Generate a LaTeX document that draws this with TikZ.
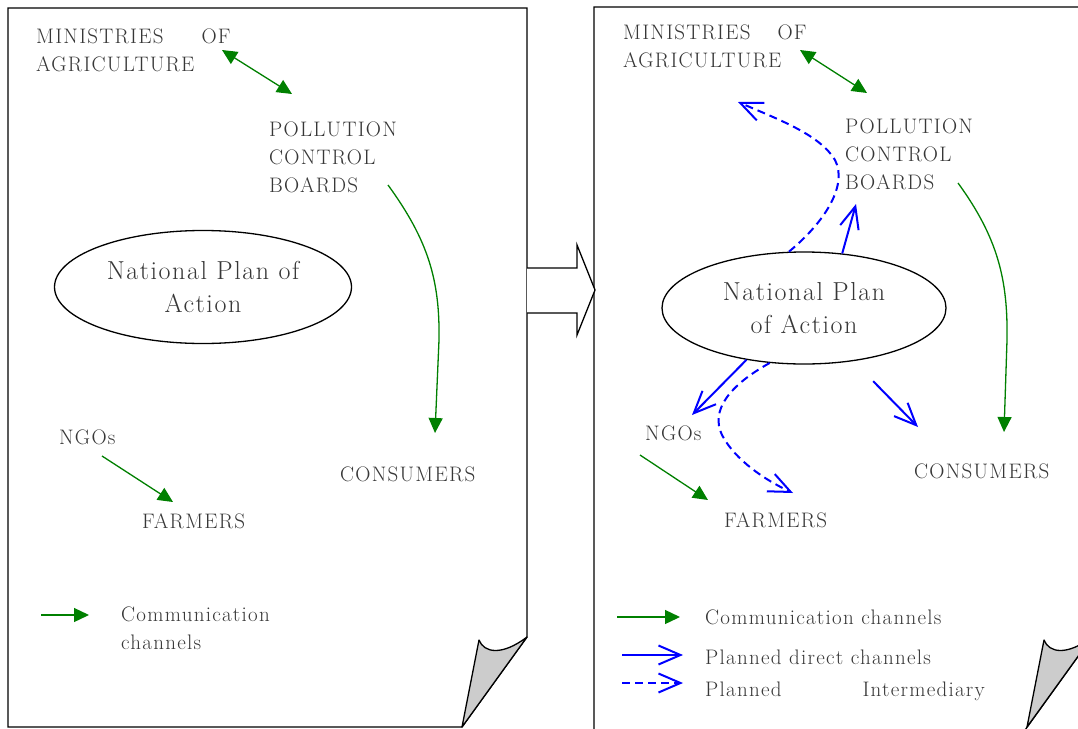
\documentclass[tikz,border=0pt]{standalone}
\usepackage{fontspec}
\newfontfamily\handfont{Latin Modern Roman}[LetterSpace=6]
\usepackage{tikz}
\usetikzlibrary{arrows.meta,shapes.geometric}

\definecolor{commgreen}{RGB}{0,128,0}
\definecolor{plannedblue}{RGB}{0,0,255}
\definecolor{inkgray}{RGB}{55,55,55}
\definecolor{curlgray}{RGB}{204,204,204}

\tikzset{
  actor/.style={anchor=north west, inner sep=0pt, align=left, text=inkgray,
    font=\handfont\fontsize{21}{28}\selectfont},
  plan/.style={draw, ellipse, line width=1.3pt, inner sep=0pt, align=center,
    text=inkgray, font=\handfont\fontsize{26}{33}\selectfont},
  comm/.style={commgreen, line width=1.3pt, -{Triangle[length=15pt,width=14pt]}},
  commboth/.style={comm, {Triangle[length=15pt,width=14pt]}-{Triangle[length=15pt,width=14pt]}},
  direct/.style={plannedblue, line width=2pt, -{Straight Barb[length=22pt,width=19pt]}},
  intermediary/.style={direct, dash pattern=on 8pt off 5pt},
  sheet/.style={draw, line width=1.3pt, fill=white},
  curl/.style={draw, line width=1.3pt, fill=curlgray, line join=round},
}

\begin{document}
\begin{tikzpicture}[x=1pt,y=-1pt]
    \useasboundingbox (0,0) rectangle (1078,728);
    \clip (0,0) rectangle (1078,728);
    % the two sheets and the arrow between them
    \draw[sheet] (8,8) -- (527,8) -- (527,637) -- (462,727) -- (8,727) -- cycle;
    \draw[curl] (462,727) -- (479,640) .. controls (484,653) and (502,656) .. (527,637) -- cycle;
    \draw[sheet] (594,7) -- (1092,7) -- (1092,637) -- (1020,737) -- (594,737) -- cycle;
    \draw[curl] (1027,727) -- (1044,640) .. controls (1049,653) and (1067,656) .. (1092,637) -- cycle;
    \draw[line width=1.3pt, fill=white] (527,268) -- (577,268) -- (577,245) -- (595,290) -- (577,335) -- (577,313) -- (527,313);

    % today
    \node[actor] (minL) at (36,29) {MINISTRIES\hspace{38pt}OF\\AGRICULTURE};
    \node[actor] (pcbL) at (269,122) {POLLUTION\\CONTROL\\BOARDS};
    \node[plan, minimum width=297pt, minimum height=113pt] (planL) at (203,287) {National Plan of\\Action};
    \node[actor] (ngoL) at (59,430) {NGOs};
    \node[actor] (farmL) at (142,513) {FARMERS};
    \node[actor] (consL) at (340,467) {CONSUMERS};
    \node[actor] (legL) at (121,607) {Communication\\channels};

    \coordinate (minLa) at (222,50);
    \coordinate (pcbLa) at (292,94);
    \coordinate (pcbLb) at (388,185);
    \coordinate (consLa) at (435,433);
    \coordinate (ngoLa) at (102,456);
    \coordinate (farmLa) at (173,502);
    \coordinate (legLa) at (41,615);
    \coordinate (legLb) at (89,615);

    \draw[commboth] (minLa) -- (pcbLa);
    \draw[comm] (pcbLb) .. controls (428,240) and (440,280) .. (439,340) -- (consLa);
    \draw[comm] (ngoLa) -- (farmLa);
    \draw[comm] (legLa) -- (legLb);

    % planned
    \node[actor] (minR) at (623,25) {MINISTRIES\hspace{27pt}OF\\AGRICULTURE};
    \node[actor] (pcbR) at (845,119) {POLLUTION\\CONTROL\\BOARDS};
    \node[plan, minimum width=284pt, minimum height=112pt] (planR) at (804,308) {National Plan\\of Action};
    \node[actor] (ngoR) at (645,426) {NGOs};
    \node[actor] (farmR) at (724,512) {FARMERS};
    \node[actor] (consR) at (914,464) {CONSUMERS};
    \node[actor] (legR1) at (705,610) {Communication channels};
    \node[actor] (legR2) at (705,650) {Planned direct channels};
    \node[actor] (legR3) at (705,682) {Planned\hspace{81pt}Intermediary};

    \coordinate (minRa) at (800,50);
    \coordinate (pcbRa) at (867,93);
    \coordinate (pcbRb) at (958,183);
    \coordinate (pcbRc) at (856,204);
    \coordinate (minRb) at (738,102);
    \coordinate (consRa) at (1004,432);
    \coordinate (consRb) at (918,427);
    \coordinate (ngoRa) at (640,455);
    \coordinate (ngoRb) at (692,415);
    \coordinate (farmRa) at (708,500);
    \coordinate (farmRb) at (793,493);
    \coordinate (legRa) at (617,617);
    \coordinate (legRb) at (680,617);
    \coordinate (legRc) at (622,655);
    \coordinate (legRd) at (683,655);
    \coordinate (legRe) at (622,683);
    \coordinate (legRf) at (683,683);

    \draw[commboth] (minRa) -- (pcbRa);
    \draw[comm] (pcbRb) .. controls (998,238) and (1008,280) .. (1007,340) -- (consRa);
    \draw[comm] (ngoRa) -- (farmRa);
    \draw[direct] (planR.55) -- (pcbRc);
    \draw[direct] (planR.222) -- (ngoRb);
    \draw[direct, shorten <=28pt] (planR.313) -- (consRb);
    \draw[intermediary] (planR.105) .. controls (825,222) and (848,185) .. (835,160) .. controls (820,135) and (780,120) .. (minRb);
    \draw[intermediary] (planR.238) .. controls (730,385) and (710,410) .. (722,435) .. controls (735,460) and (765,480) .. (farmRb);
    \draw[comm] (legRa) -- (legRb);
    \draw[direct] (legRc) -- (legRd);
    \draw[intermediary] (legRe) -- (legRf);
\end{tikzpicture}
\end{document}
